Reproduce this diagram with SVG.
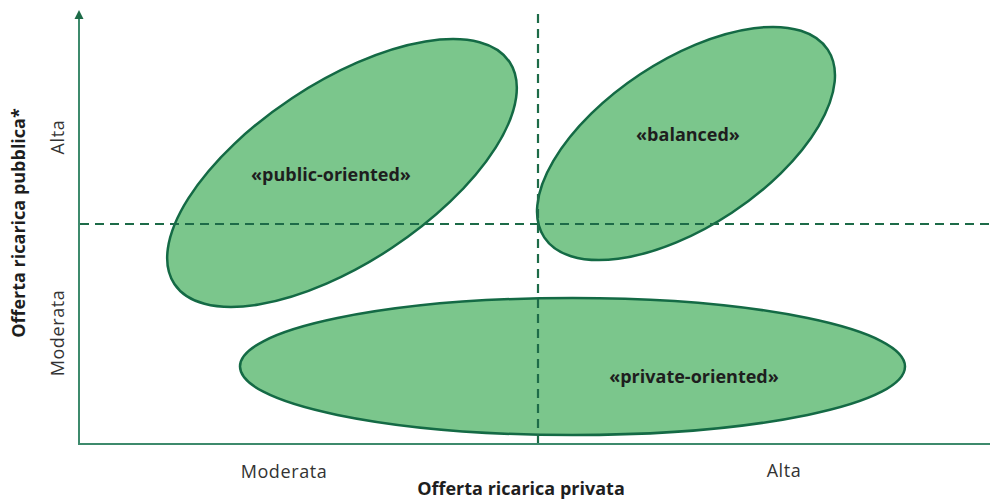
<svg xmlns="http://www.w3.org/2000/svg" width="990" height="501" viewBox="0 0 990 501">
<defs>
<style>
.blob{fill:#7bc68c;stroke:#146a45;stroke-width:2.5}
.lbl{font-family:"Open Sans","Liberation Sans",sans-serif;font-weight:bold;font-size:18px;fill:#1e1e1e;text-anchor:middle}
.tick{font-family:"Open Sans","Liberation Sans",sans-serif;font-size:18px;letter-spacing:0.6px;fill:#333;text-anchor:middle}
.axis{stroke:#3d8a6c;stroke-width:2;fill:none}
.dash{stroke:#1d6b48;stroke-width:2.2;stroke-dasharray:9 6;fill:none}
</style>
</defs>
<g id="nodes">
<g id="public-oriented">
<ellipse class="blob" cx="342" cy="173" rx="201" ry="90" transform="rotate(-33.5 342 173)"/>
<text class="lbl" x="331" y="181">«public-oriented»</text>
</g>
<g id="balanced">
<ellipse class="blob" cx="686" cy="143.5" rx="170" ry="83" transform="rotate(-33.5 686 143.5)"/>
<text class="lbl" x="688" y="141">«balanced»</text>
</g>
<g id="private-oriented">
<ellipse class="blob" cx="572.5" cy="366.5" rx="332.5" ry="68.5"/>
<text class="lbl" x="694" y="383">«private-oriented»</text>
</g>
</g>
<g id="connectors">
<line class="dash" x1="538" y1="14" x2="538" y2="443"/>
<line class="dash" x1="80" y1="224" x2="990" y2="224"/>
<line class="axis" x1="79" y1="444" x2="79" y2="16"/>
<path d="M74.5,19 L79,10 L83.5,19 Z" fill="#1d6b48"/>
<line class="axis" x1="78" y1="444" x2="990" y2="444"/>
</g>
<g id="labels">
<text class="tick" x="284" y="478">Moderata</text>
<text class="tick" x="784" y="477">Alta</text>
<text class="lbl" x="521" y="495">Offerta ricarica privata</text>
<text class="tick" transform="translate(64 137) rotate(-90)">Alta</text>
<text class="tick" transform="translate(64 333) rotate(-90)">Moderata</text>
<text class="lbl" transform="translate(25 223) rotate(-90)">Offerta ricarica pubblica*</text>
</g>
</svg>
